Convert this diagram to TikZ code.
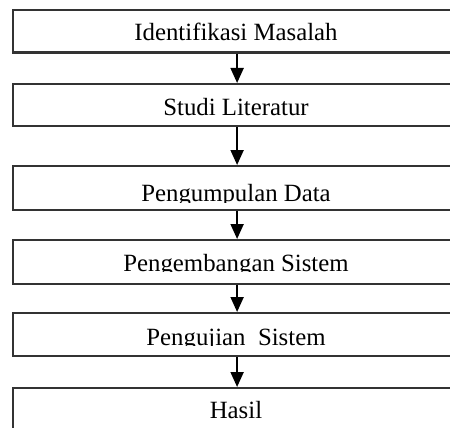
\documentclass[tikz,border=0pt]{standalone}
\usepackage{fontspec}
\setmainfont{Liberation Serif}
\usetikzlibrary{arrows.meta}
\begin{document}
\begin{tikzpicture}[x=1pt,y=-1pt,
  box/.style={draw=black!80, line width=2.2pt, rectangle, anchor=north west, minimum width=448pt, inner sep=0pt},
  lbl/.style={anchor=base, inner sep=0pt, font=\fontsize{24.8}{28}\selectfont},
  flow/.style={line width=2pt, -{Triangle[width=13pt,length=15pt]}}]
\fill[white] (0,0) rectangle (450,428);
\useasboundingbox (0,0) rectangle (450,428);
\node[box, minimum height=42.5pt] (b1) at (12,9) {};
\node[box, minimum height=42pt] (b2) at (12,83) {};
\node[box, minimum height=43.5pt] (b3) at (12,165) {};
\node[box, minimum height=43.5pt] (b4) at (12,239) {};
\node[box, minimum height=43pt] (b5) at (12,312) {};
\node[box, minimum height=58pt] (b6) at (12,387) {};
\node[lbl] (t1) at (236,40.5) {Identifikasi Masalah};
\node[lbl] (t2) at (236,115) {Studi Literatur};
\begin{scope}
\clip (14,166) rectangle (458,202);
\node[lbl] (t3) at (236,201.5) {Pengumpulan Data};
\end{scope}
\begin{scope}
\clip (14,240) rectangle (458,271.5);
\node[lbl] (t4) at (236,271) {Pengembangan Sistem};
\end{scope}
\begin{scope}
\clip (14,313) rectangle (458,345.5);
\node[lbl] (t5) at (236,345) {Pengujian\ \ Sistem};
\end{scope}
\node[lbl] (t6) at (236,418) {Hasil};
\draw[flow] (b1.south) -- (b2.north);
\draw[flow] (b2.south) -- (b3.north);
\draw[flow] (b3.south) -- (b4.north);
\draw[flow] (b4.south) -- (b5.north);
\draw[flow] (b5.south) -- (b6.north);
\end{tikzpicture}
\end{document}
